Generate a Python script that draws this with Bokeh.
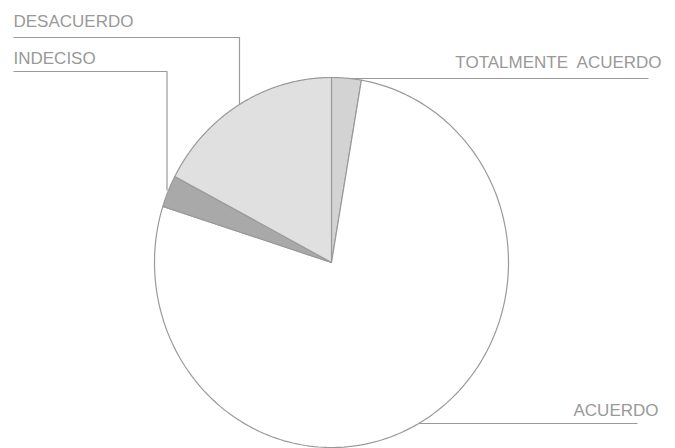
import numpy as np
from bokeh.plotting import figure
from bokeh.models import Range1d, ColumnDataSource
from bokeh.embed import file_html
from bokeh.resources import INLINE
from bokeh.core.properties import value

# Data (percentages), clockwise from 12 o'clock
categories = ["TOTALMENTE\u00a0 ACUERDO", "ACUERDO", "INDECISO", "DESACUERDO"]
shares = [2.7, 77.2, 2.8, 17.3]
colors = ["#d3d3d3", "#ffffff", "#a9a9a9", "#e0e0e0"]

W, H = 675, 448
CX, CY = 331, 262
RX, RY = 177, 185

p = figure(width=W, height=H, output_backend="svg", toolbar_location=None,
           x_range=Range1d(0, W), y_range=Range1d(H, 0), min_border=0)
p.axis.visible = False
p.grid.visible = False
p.outline_line_color = None
p.background_fill_color = "white"

LINE = "#9a9a9a"
TXT = "#999999"

# leader lines (drawn beneath the pie)
p.line([13, 239, 239], [37, 37, 110], line_color=LINE, line_width=1.2)
p.line([13, 166.5, 166.5], [71, 71, 190], line_color=LINE, line_width=1.2)
p.line([335, 648], [78, 78], line_color=LINE, line_width=1.2)
p.line([400, 637], [423, 423], line_color=LINE, line_width=1.2)

# pie slices built from shares
fr = np.array(shares, dtype=float) / np.sum(shares)
cum = np.concatenate([[0], np.cumsum(fr)]) * 2 * np.pi
xs, ys = [], []
for i in range(len(shares)):
    t = np.linspace(cum[i], cum[i + 1], 200)
    xs.append(list(np.concatenate([[CX], CX + RX * np.sin(t), [CX]])))
    ys.append(list(np.concatenate([[CY], CY - RY * np.cos(t), [CY]])))
src = ColumnDataSource(dict(xs=xs, ys=ys, color=colors, name=categories))
p.patches("xs", "ys", source=src, fill_color="color", line_color=LINE, line_width=1.2)

# labels
font = value("Liberation Sans")
p.text(x=[13, 13], y=[21, 58], text=[categories[3], categories[2]],
       text_font=font, text_font_size="17px", text_color=TXT,
       text_align="left", text_baseline="middle")
p.text(x=[662, 658], y=[62, 410], text=[categories[0], categories[1]],
       text_font=font, text_font_size="17px", text_color=TXT,
       text_align="right", text_baseline="middle")

open("out.html", "w").write(file_html(p, INLINE))
